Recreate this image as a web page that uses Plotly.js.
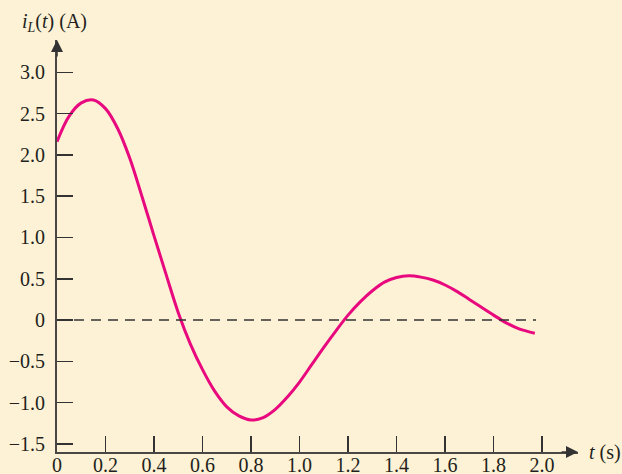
<!DOCTYPE html>
<html>
<head>
<meta charset="utf-8">
<script src="https://cdn.plot.ly/plotly-3.0.1.min.js"></script>
<style>
  html, body { margin: 0; padding: 0; background: #FDF2D5; }
  #chart { width: 622px; height: 474px; }
</style>
</head>
<body>
<div id="chart"></div>
<script>
// Time samples (s)
const timeS = [0, 0.05, 0.1, 0.15, 0.2, 0.25, 0.3, 0.35, 0.4, 0.45, 0.5, 0.55, 0.6, 0.65, 0.7, 0.75, 0.8, 0.85, 0.9, 0.95, 1.0,
               1.05, 1.1, 1.15, 1.2, 1.25, 1.3, 1.35, 1.4, 1.45, 1.5, 1.55, 1.6, 1.65, 1.7, 1.75, 1.8, 1.85, 1.9, 1.95, 1.97];
// Inductor current i_L(t) (A)
const currentA = [2.16, 2.47, 2.63, 2.665, 2.56, 2.32, 1.96, 1.50, 1.02, 0.55, 0.09, -0.29, -0.60, -0.86, -1.05, -1.16, -1.21, -1.18, -1.08, -0.93, -0.75,
                  -0.54, -0.33, -0.13, 0.06, 0.22, 0.355, 0.46, 0.515, 0.536, 0.52, 0.485, 0.425, 0.345, 0.25, 0.155, 0.06, -0.03, -0.10, -0.145, -0.16];

const xTickVals = [0, 0.2, 0.4, 0.6, 0.8, 1.0, 1.2, 1.4, 1.6, 1.8, 2.0];
const xTickText = ["0", "0.2", "0.4", "0.6", "0.8", "1.0", "1.2", "1.4", "1.6", "1.8", "2.0"];
const yTickVals = [-1.5, -1.0, -0.5, 0, 0.5, 1.0, 1.5, 2.0, 2.5, 3.0];
const yTickText = ["\u22121.5", "\u22121.0", "\u22120.5", "0", "0.5", "1.0", "1.5", "2.0", "2.5", "3.0"];

const xTitle = "<i>t</i> (s)";
const yTitle = "<i>i</i><sub><i>L</i></sub>(<i>t</i>) (A)";

const bg = "#FDF2D5";
const axisColor = "#4a4644";
const tickFont = { family: "Liberation Serif, Times New Roman, serif", size: 20, color: "#231f20" };

const trace = {
  x: timeS, y: currentA, type: "scatter", mode: "lines",
  line: { color: "#E8097F", width: 3, shape: "spline", smoothing: 1 },
  hoverinfo: "skip"
};

const layout = {
  width: 622, height: 474,
  margin: { l: 57, r: 44, t: 40, b: 22 },
  paper_bgcolor: bg, plot_bgcolor: bg,
  showlegend: false,
  xaxis: {
    range: [0, 2.148], showgrid: false, zeroline: false,
    showline: true, linecolor: axisColor, linewidth: 2,
    ticks: "inside", ticklen: 16, tickwidth: 1.5, tickcolor: "#333",
    tickvals: xTickVals, ticktext: xTickText, tickfont: tickFont,
    ticklabelstandoff: -6
  },
  yaxis: {
    range: [-1.597, 3.391], showgrid: false, zeroline: false,
    showline: true, linecolor: axisColor, linewidth: 2,
    ticks: "inside", ticklen: 16, tickwidth: 1.5, tickcolor: "#333",
    tickvals: yTickVals, ticktext: yTickText, tickfont: tickFont,
    ticklabelstandoff: 6
  },
  shapes: [
    { type: "line", xref: "x", yref: "y", x0: 0, x1: 1.975, y0: 0, y1: 0,
      line: { color: "#333", width: 1.5, dash: "10px,7px" } }
  ],
  annotations: [
    { xref: "paper", yref: "paper", x: 1, y: 0, ax: -18, ay: 0, text: "", showarrow: true,
      arrowhead: 2, arrowsize: 1.6, arrowwidth: 1.5, arrowcolor: "#333" },
    { xref: "paper", yref: "paper", x: 0, y: 1, ax: 0, ay: 18, text: "", showarrow: true,
      arrowhead: 2, arrowsize: 1.6, arrowwidth: 1.5, arrowcolor: "#333" },
    { xref: "paper", yref: "paper", x: 1, y: 0, xshift: 9, xanchor: "left", yanchor: "middle",
      text: xTitle, showarrow: false, font: tickFont },
    { xref: "paper", yref: "paper", x: 0, y: 1, xshift: -37, yshift: 18, xanchor: "left", yanchor: "middle",
      text: yTitle, showarrow: false, font: tickFont }
  ]
};

Plotly.newPlot("chart", [trace], layout, { staticPlot: true });
</script>
</body>
</html>
